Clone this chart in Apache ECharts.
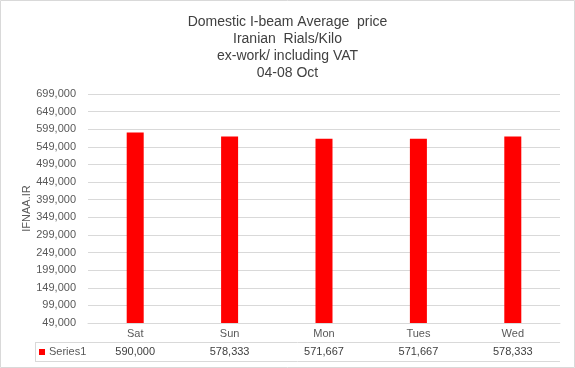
<!DOCTYPE html>
<html><head><meta charset="utf-8">
<script src="https://cdn.jsdelivr.net/npm/echarts@6/dist/echarts.min.js"></script>
<style>html,body{margin:0;padding:0;background:#fff}#c{width:575px;height:368px}</style>
</head><body><div id="c"></div>
<script>
const categories = ['Sat', 'Sun', 'Mon', 'Tues', 'Wed'];
const values = [590000, 578333, 571667, 571667, 578333];
const seriesName = 'Series1';
const titleLines = ['Domestic I-beam Average  price', 'Iranian  Rials/Kilo', 'ex-work/ including VAT', '04-08 Oct'];
const yMin = 49000, yMax = 699000, yStep = 50000;

const fmt = v => v.toLocaleString('en-US');
const F = 'Liberation Sans';
const chart = echarts.init(document.getElementById('c'));
const G = {left: 88, right: 15, top: 94, bottom: 45};
chart.setOption({
  animation: false,
  title: {text: titleLines.join('\n'), left: 'center', top: 9,
    textStyle: {fontFamily: F, fontSize: 14, fontWeight: 'normal', color: '#404040', lineHeight: 17}},
  grid: G,
  xAxis: {type: 'category', data: categories,
    axisLine: {lineStyle: {color: '#d9d9d9'}},
    axisTick: {length: 38, lineStyle: {color: '#d9d9d9'}},
    axisLabel: {margin: 5, fontFamily: F, fontSize: 11, color: '#595959'}},
  yAxis: {type: 'value', min: yMin, max: yMax, interval: yStep,
    name: 'IFNAA.IR', nameLocation: 'middle', nameGap: 56, nameRotate: 90, nameMoveOverlap: false,
    nameTextStyle: {fontFamily: F, fontSize: 11, color: '#595959'},
    axisLabel: {margin: 12, fontFamily: F, fontSize: 11, color: '#595959', formatter: v => fmt(v)},
    splitLine: {lineStyle: {color: '#d9d9d9'}}},
  series: [{type: 'bar', name: seriesName, data: values, barWidth: 17, itemStyle: {color: '#ff0000'}}]
});

const top0 = 368 - G.bottom, rowH = 19, xL = 35, xR = 575 - G.right;
const g = [
  {type: 'rect', shape: {x: 0.5, y: 0.5, width: 574, height: 367}, style: {fill: 'none', stroke: '#d9d9d9'}},
  {type: 'line', shape: {x1: xL, y1: top0 + rowH + 0.5, x2: xR, y2: top0 + rowH + 0.5}, style: {stroke: '#d9d9d9'}},
  {type: 'line', shape: {x1: xL, y1: top0 + 2 * rowH + 0.5, x2: xR, y2: top0 + 2 * rowH + 0.5}, style: {stroke: '#d9d9d9'}},
  {type: 'line', shape: {x1: xL + 0.5, y1: top0 + rowH, x2: xL + 0.5, y2: top0 + 2 * rowH}, style: {stroke: '#d9d9d9'}},
  {type: 'rect', shape: {x: 39, y: top0 + rowH + 7, width: 6, height: 6}, style: {fill: '#ff0000'}},
  {type: 'text', x: 49, y: top0 + rowH + 10, style: {text: seriesName, fontFamily: F, fontSize: 11, fill: '#595959', verticalAlign: 'middle'}}
];
categories.forEach((c, i) => {
  const px = chart.convertToPixel({xAxisIndex: 0}, c);
  g.push({type: 'text', x: px, y: top0 + rowH + 10, style: {text: fmt(values[i]), fontFamily: F, fontSize: 11, fill: '#404040', align: 'center', verticalAlign: 'middle'}});
});
chart.setOption({graphic: g});
</script></body></html>
